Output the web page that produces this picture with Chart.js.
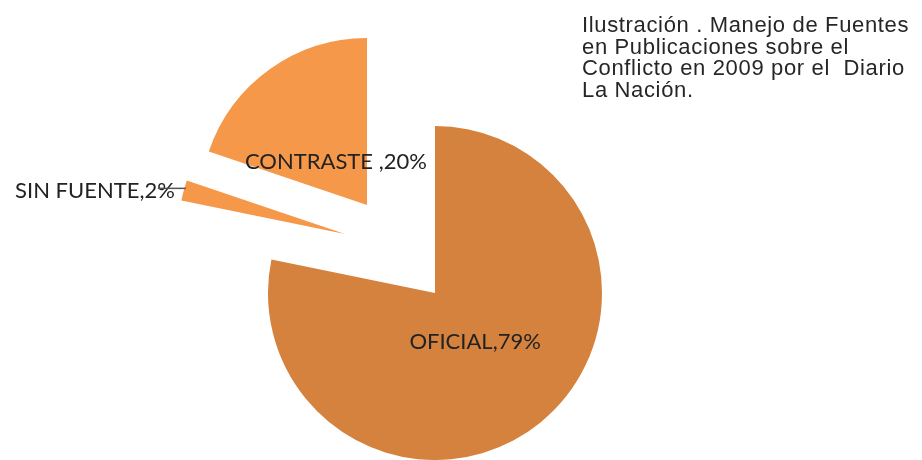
<!DOCTYPE html>
<html lang="es">
<head>
    <meta charset="UTF-8">
    <title>Manejo de Fuentes - La Nación 2009</title>
    <script src="https://cdn.jsdelivr.net/npm/chart.js"></script>
    <style>
        html, body {
            margin: 0;
            padding: 0;
            background: #fff;
            overflow: hidden;
        }

        .chart-container {
            position: absolute;
            left: 0;
            top: 0;
            width: 922px;
            height: 460px;
        }

        .caption {
            position: absolute;
            left: 582px;
            top: 14px;
            font-family: "Liberation Sans", Arial, sans-serif;
            font-size: 22px;
            line-height: 21.7px;
            letter-spacing: 0.65px;
            color: #262626;
        }
    </style>
</head>
<body>

    <div class="chart-container">
        <canvas id="fuentesChart"></canvas>
    </div>

    <div class="caption">
        Ilustración . Manejo de Fuentes<br>
        en Publicaciones sobre el<br>
        Conflicto en 2009 por el&nbsp; Diario<br>
        La Nación.
    </div>

    <script>
        // Datos
        const categories = ['OFICIAL', 'SIN FUENTE', 'CONTRASTE '];
        const shares = [79, 2, 20];

        // Estilo de cada porción
        const sliceColors = ['#D5823E', '#F6984A', '#F6984A'];
        const explodeX = [0, -90, -68];   // desplazamiento de la porción (px)
        const explodeY = [0, -59, -88];
        const labelRadius = [0.38, 0, 0.32];  // 0 = etiqueta fuera

        // Separa las porciones (como en Excel)
        const explodePlugin = {
            id: 'explode',
            afterDatasetUpdate(chart, args) {
                args.meta.data.forEach((arc, i) => {
                    arc.x += explodeX[i];
                    arc.y += explodeY[i];
                });
            }
        };

        // Etiquetas de categoría y porcentaje
        const labelPlugin = {
            id: 'sliceLabels',
            afterDatasetsDraw(chart) {
                const ctx = chart.ctx;
                const meta = chart.getDatasetMeta(0);
                ctx.save();
                ctx.font = '22px Lato';
                ctx.fillStyle = '#222';
                ctx.textBaseline = 'middle';
                meta.data.forEach((arc, i) => {
                    const mid = (arc.startAngle + arc.endAngle) / 2;
                    const text = categories[i] + ',' + shares[i] + '%';
                    if (labelRadius[i] > 0) {
                        const r = arc.outerRadius * labelRadius[i];
                        ctx.textAlign = 'center';
                        ctx.fillText(text, arc.x + Math.cos(mid) * r, arc.y + Math.sin(mid) * r);
                    } else {
                        const ox = arc.x + Math.cos(mid) * arc.outerRadius;
                        const oy = arc.y + Math.sin(mid) * arc.outerRadius;
                        ctx.textAlign = 'right';
                        ctx.fillText(text, ox - 9, oy + 1);
                        ctx.strokeStyle = '#555';
                        ctx.lineWidth = 1.5;
                        ctx.beginPath();
                        ctx.moveTo(ox - 26, oy - 2);
                        ctx.lineTo(ox + 2, oy - 2);
                        ctx.stroke();
                    }
                });
                ctx.restore();
            }
        };

        const ctx = document.getElementById('fuentesChart').getContext('2d');
        const fuentesChart = new Chart(ctx, {
            type: 'pie',
            data: {
                labels: categories,
                datasets: [{
                    data: shares,
                    backgroundColor: sliceColors,
                    borderWidth: 0,
                    clip: false
                }]
            },
            options: {
                responsive: true,
                maintainAspectRatio: false,
                animation: false,
                radius: 167,
                layout: {
                    padding: { left: 0, right: 52, top: 126, bottom: 0 }
                },
                plugins: {
                    legend: { display: false },
                    tooltip: { enabled: false }
                }
            },
            plugins: [explodePlugin, labelPlugin]
        });
    </script>

</body>
</html>
